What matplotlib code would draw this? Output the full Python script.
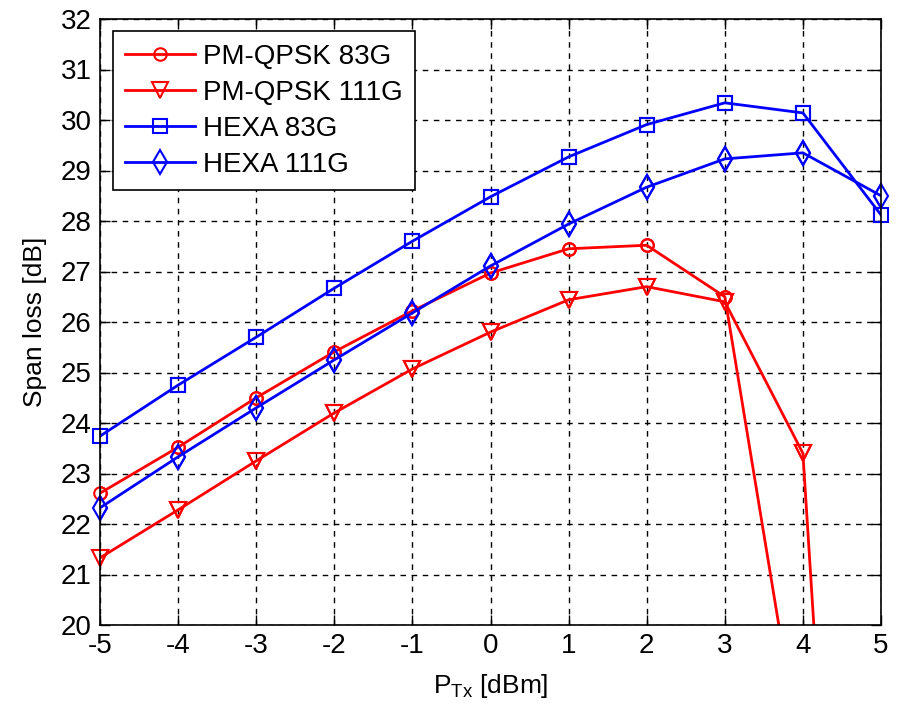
import numpy as np
import matplotlib
matplotlib.use("Agg")
import matplotlib.pyplot as plt

plt.rcParams['font.family'] = ['Liberation Sans', 'DejaVu Sans']
plt.rcParams['axes.unicode_minus'] = False

# data
ptx = [-5, -4, -3, -2, -1, 0, 1, 2, 3, 4, 5]
qpsk_83 = [22.61, 23.52, 24.50, 25.41, 26.22, 26.97, 27.45, 27.52, 26.50, 17.1, np.nan]
qpsk_111 = [21.33, 22.28, 23.25, 24.20, 25.07, 25.80, 26.44, 26.70, 26.40, 23.40, -0.9]
hexa_83 = [23.74, 24.75, 25.70, 26.67, 27.60, 28.48, 29.27, 29.91, 30.34, 30.14, 28.12]
hexa_111 = [22.32, 23.33, 24.30, 25.25, 26.18, 27.11, 27.94, 28.67, 29.23, 29.35, 28.50]

fig = plt.figure(figsize=(8.97, 7.08), dpi=100)
ax = fig.add_axes([100/897, 83/708, 781/897, 606/708])

series = [
    (qpsk_83, '#ff0000', 'o', 9, 'PM-QPSK 83G'),
    (qpsk_111, '#ff0000', 'v', 11, 'PM-QPSK 111G'),
    (hexa_83, '#0000ff', 's', 10, 'HEXA 83G'),
    (hexa_111, '#0000ff', 'd', 12, 'HEXA 111G'),
]
for y, c, m, ms, lab in series:
    ax.plot(ptx, y, color=c, marker=m, ms=ms, lw=2, mfc='none', mew=1.5, label=lab)
    # markers that sit inside the y-range are drawn unclipped (like MATLAB)
    y = np.array(y, dtype=float)
    inside = (y >= 20) & (y <= 32)
    ax.plot(np.array(ptx)[inside], y[inside], ls='none', color=c, marker=m, ms=ms,
            mfc='none', mew=1.5, clip_on=False)

ax.set_xlim(-5, 5)
ax.set_ylim(20, 32)
ax.set_xticks(range(-5, 6))
ax.set_yticks(range(20, 33))
ax.tick_params(direction='in', top=True, right=True, length=7, width=1, labelsize=20, pad=6)
ax.grid(True, color='black', linestyle=(0, (4, 4)), lw=1)
for s in ax.spines.values():
    s.set_linewidth(1.2)

ax.set_xlabel(r'P$_{\mathregular{Tx}}$ [dBm]', fontsize=19, labelpad=9)
ax.set_ylabel('Span loss [dB]', fontsize=19, labelpad=10)

leg = ax.legend(loc='upper left', bbox_to_anchor=(0.0166, 0.980), borderaxespad=0,
                fontsize=20, fancybox=False, framealpha=1, edgecolor='black',
                handlelength=2.5, handletextpad=0.3, labelspacing=0.36, borderpad=0.45)
leg.get_frame().set_linewidth(1.2)
leg.set_zorder(5)

fig.savefig('out.png', dpi=100)
